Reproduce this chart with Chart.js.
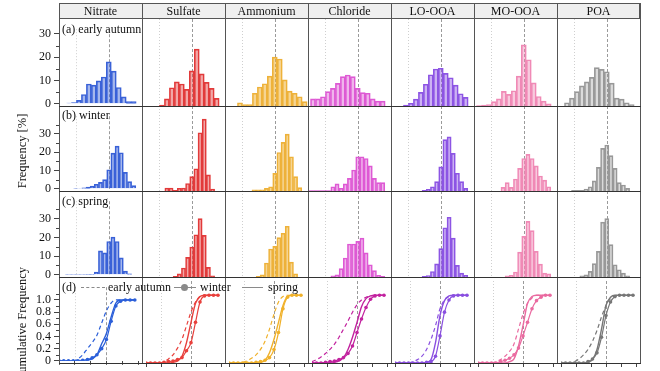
<!DOCTYPE html>
<html>
<head>
<meta charset="utf-8">
<script src="https://cdn.jsdelivr.net/npm/chart.js@4.4.0/dist/chart.umd.min.js"></script>
<style>
  body { margin: 0; background: #fff; }
  #wrap { position: relative; width: 660px; height: 371px; overflow: hidden;
          font-family: 'Liberation Serif', 'Times New Roman', serif; color: #111; }
  #wrap canvas { position: absolute; }
  .t { position: absolute; font-size: 12px; line-height: 14px; white-space: nowrap; z-index: 5; }
  .vl { position: absolute; width: 1px; background: #555; z-index: 4; }
  .hl { position: absolute; height: 1px; background: #333; z-index: 4; }
</style>
</head>
<body>
<div id="wrap"></div>
<script>
// Histogramas + frequência cumulativa por espécie e estação

const species = ['Nitrate', 'Sulfate', 'Ammonium', 'Chloride', 'LO-OOA', 'MO-OOA', 'POA'];
const seasons = ['early autumn', 'winter', 'spring'];

// centros das classes (eixo x 0..5)
const autumnBins = [0, 0.3, 0.6, 0.9, 1.2, 1.5, 1.8, 2.1, 2.4, 2.7, 3.0, 3.3, 3.6, 3.9, 4.2, 4.5, 4.8];
const winterBins = [0, 0.25, 0.5, 0.75, 1, 1.25, 1.5, 1.75, 2, 2.25, 2.5, 2.75, 3, 3.25, 3.5, 3.75, 4, 4.25, 4.5, 4.75];
const springBins = [0, 0.25, 0.5, 0.75, 1, 1.25, 1.5, 1.75, 2, 2.25, 2.5, 2.75, 3, 3.25, 3.5, 3.75, 4, 4.25, 4.5, 4.75];
const cumX = [0, 0.3, 0.6, 0.9, 1.2, 1.5, 1.8, 2.1, 2.4, 2.7, 3.0, 3.3, 3.6, 3.9, 4.2, 4.5, 4.8];

// frequência [%] - early autumn
const nitrateAutumn  = [0, 0, 0.3, 0.5, 1.5, 4, 8.5, 8, 9.8, 11.5, 18, 14, 7, 3, 1, 1, 0];
const sulfateAutumn  = [0, 0, 0, 0, 0.3, 2.6, 6.7, 8.9, 8.1, 6.1, 12.9, 20.9, 11.8, 8.7, 6.5, 2.8, 0];
const ammoniumAutumn = [0, 0, 0, 1.2, 0.5, 0.5, 4.7, 7, 8.2, 11, 18, 17.3, 9.6, 5.5, 4.7, 3.4, 1.6];
const chlorideAutumn = [0, 2.6, 2.6, 3.4, 5.3, 6.5, 8.3, 10.8, 11.4, 10.8, 6.5, 4.9, 4.7, 2.6, 1.8, 1.8, 0];
const looaAutumn     = [0, 0, 0, 0.3, 1, 2.5, 5, 8, 11.5, 13.6, 13.9, 12, 10.4, 7.7, 4.5, 3.2, 0];
const moooaAutumn    = [0, 0.2, 0.3, 0.5, 1.6, 2.6, 5.4, 4.3, 5.6, 11, 22.5, 17, 8.5, 3.5, 1.8, 0.8, 0];
const poaAutumn      = [0, 0, 1.2, 2.9, 5.3, 7.4, 8.9, 10.5, 14.1, 13.5, 12.6, 8.4, 2.9, 2.5, 1.2, 0.5, 0];

// winter
const nitrateWinter  = [0, 0, 0, 0, 0.2, 0.3, 0.5, 1, 1.5, 2.5, 3.5, 5, 10.4, 19.5, 23.3, 19.7, 9, 3.9, 1.7, 0];
const sulfateWinter  = [0, 0, 0, 0, 0, 0, 1.4, 1.4, 0.3, 1.3, 1.4, 3.5, 6.7, 10.4, 27.2, 33.6, 7.5, 0.9, 0, 0];
const ammoniumWinter = [0, 0, 0, 0, 0, 0, 0, 0.5, 0.5, 0.5, 1.2, 2, 8.2, 18, 22.7, 26.6, 16, 6.7, 1.6, 0];
const chlorideWinter = [0.2, 0.2, 0.2, 0.2, 0.2, 0.2, 2, 3.3, 1.3, 3.3, 5.9, 9.8, 16, 16, 15.2, 11.7, 5.9, 3.9, 3.9, 0];
const looaWinter     = [0, 0, 0, 0, 0, 0, 0, 0, 0.3, 0.8, 2, 4.4, 11.3, 24, 25.3, 17.6, 8.3, 4.4, 1.2, 0];
const moooaWinter    = [0, 0, 0, 0, 0, 0, 0, 1.7, 3.9, 1.7, 5.6, 10.6, 15.2, 17.1, 15.2, 11.7, 7, 5.1, 2, 0];
const poaWinter      = [0, 0, 0, 0, 0.3, 0.3, 0.3, 0.9, 2, 4.7, 11, 19.9, 21.5, 16.5, 10.6, 3.9, 2.8, 1.2, 0, 0];

// spring
const nitrateSpring  = [0, 0, 0.2, 0.2, 0.2, 0.2, 0.2, 0.3, 0.3, 1.4, 12.8, 11.7, 17.8, 20.1, 17.8, 9, 2, 0.5, 0, 0];
const sulfateSpring  = [0, 0, 0, 0, 0, 0, 0, 0, 0.3, 1.4, 4.1, 9, 13.7, 19.3, 26.7, 19, 4.4, 0.5, 0, 0];
const ammoniumSpring = [0, 0, 0, 0, 0, 0, 0, 0, 0.3, 1, 6.4, 12.8, 14, 18, 20, 23.2, 6.8, 1.5, 0, 0];
const chlorideSpring = [0, 0, 0, 0, 0, 0, 0.5, 1, 3.8, 8.7, 15.1, 15.1, 16.3, 17.8, 11, 5.6, 2.9, 0.8, 0.3, 0];
const looaSpring     = [0, 0, 0, 0, 0, 0, 0, 0, 0.3, 0.7, 2.5, 6, 13, 22.5, 27.3, 17.8, 5.3, 1.8, 0.8, 0];
const moooaSpring    = [0, 0, 0, 0, 0, 0, 0, 0, 0.5, 0.8, 2.3, 11.4, 18.6, 25.4, 21.2, 11.7, 5.9, 1.8, 1.4, 0];
const poaSpring      = [0, 0, 0, 0, 0, 0, 0.5, 1, 2.6, 6.1, 11.7, 25.1, 26.7, 14.8, 5.6, 3.3, 1.8, 0.5, 0, 0];

const nitrateCumAutumn  = [0, 0, 0, 0, 0.03, 0.1, 0.2, 0.3, 0.42, 0.62, 0.82, 0.95, 1, 1, 1, 1, 1];
const nitrateCumWinter  = [0, 0, 0, 0, 0, 0.01, 0.02, 0.05, 0.1, 0.2, 0.35, 0.65, 0.9, 0.98, 1, 1, 1];
const nitrateCumSpring  = [0, 0, 0, 0, 0, 0, 0.01, 0.03, 0.1, 0.28, 0.45, 0.72, 0.95, 1, 1, 1, 1];
const sulfateCumAutumn  = [0, 0, 0, 0, 0.02, 0.06, 0.12, 0.22, 0.35, 0.55, 0.75, 0.9, 0.98, 1, 1, 1, 1];
const sulfateCumWinter  = [0, 0, 0, 0, 0.01, 0.02, 0.03, 0.05, 0.08, 0.18, 0.3, 0.6, 0.9, 0.99, 1, 1, 1];
const sulfateCumSpring  = [0, 0, 0, 0, 0, 0, 0.01, 0.03, 0.1, 0.3, 0.6, 0.88, 0.98, 1, 1, 1, 1];
const ammoniumCumAutumn = [0, 0, 0, 0.01, 0.03, 0.07, 0.12, 0.2, 0.32, 0.5, 0.72, 0.9, 0.98, 1, 1, 1, 1];
const ammoniumCumWinter = [0, 0, 0, 0, 0, 0, 0.01, 0.02, 0.04, 0.08, 0.2, 0.45, 0.8, 0.97, 1, 1, 1];
const ammoniumCumSpring = [0, 0, 0, 0, 0, 0, 0, 0.01, 0.04, 0.15, 0.35, 0.6, 0.85, 0.98, 1, 1, 1];
const chlorideCumAutumn = [0.02, 0.05, 0.09, 0.14, 0.2, 0.28, 0.38, 0.5, 0.62, 0.75, 0.86, 0.93, 0.97, 0.99, 1, 1, 1];
const chlorideCumWinter = [0, 0, 0, 0.01, 0.02, 0.03, 0.05, 0.08, 0.14, 0.25, 0.45, 0.65, 0.82, 0.94, 0.99, 1, 1];
const chlorideCumSpring = [0, 0, 0, 0, 0, 0.01, 0.03, 0.08, 0.2, 0.38, 0.6, 0.83, 0.95, 0.99, 1, 1, 1];
const looaCumAutumn     = [0, 0, 0, 0, 0.02, 0.05, 0.1, 0.2, 0.35, 0.55, 0.8, 0.93, 0.98, 1, 1, 1, 1];
const looaCumWinter     = [0, 0, 0, 0, 0, 0, 0, 0.01, 0.02, 0.1, 0.4, 0.75, 0.93, 0.99, 1, 1, 1];
const looaCumSpring     = [0, 0, 0, 0, 0, 0, 0, 0.01, 0.05, 0.3, 0.7, 0.92, 0.99, 1, 1, 1, 1];
const moooaCumAutumn    = [0, 0, 0, 0, 0.02, 0.05, 0.1, 0.17, 0.28, 0.5, 0.72, 0.88, 0.96, 1, 1, 1, 1];
const moooaCumWinter    = [0, 0, 0, 0, 0, 0.02, 0.04, 0.07, 0.12, 0.22, 0.4, 0.6, 0.8, 0.92, 0.97, 1, 1];
const moooaCumSpring    = [0, 0, 0, 0, 0, 0, 0, 0.02, 0.06, 0.25, 0.55, 0.88, 0.98, 1, 1, 1, 1];
const poaCumAutumn      = [0, 0, 0, 0.02, 0.06, 0.12, 0.2, 0.32, 0.48, 0.68, 0.85, 0.95, 0.99, 1, 1, 1, 1];
const poaCumWinter      = [0, 0, 0, 0, 0, 0, 0.02, 0.06, 0.15, 0.38, 0.7, 0.9, 0.98, 1, 1, 1, 1];
const poaCumSpring      = [0, 0, 0, 0, 0, 0, 0.01, 0.05, 0.2, 0.5, 0.85, 0.97, 1, 1, 1, 1, 1];

// tabelas montadas a partir dos arrays
const hist = [
  [nitrateAutumn, nitrateWinter, nitrateSpring],
  [sulfateAutumn, sulfateWinter, sulfateSpring],
  [ammoniumAutumn, ammoniumWinter, ammoniumSpring],
  [chlorideAutumn, chlorideWinter, chlorideSpring],
  [looaAutumn, looaWinter, looaSpring],
  [moooaAutumn, moooaWinter, moooaSpring],
  [poaAutumn, poaWinter, poaSpring]
];
const cum = [
  [nitrateCumAutumn, nitrateCumWinter, nitrateCumSpring],
  [sulfateCumAutumn, sulfateCumWinter, sulfateCumSpring],
  [ammoniumCumAutumn, ammoniumCumWinter, ammoniumCumSpring],
  [chlorideCumAutumn, chlorideCumWinter, chlorideCumSpring],
  [looaCumAutumn, looaCumWinter, looaCumSpring],
  [moooaCumAutumn, moooaCumWinter, moooaCumSpring],
  [poaCumAutumn, poaCumWinter, poaCumSpring]
];
const binX = [autumnBins, winterBins, springBins];

// estilo
const fills  = ['rgba(58,98,216,0.45)', 'rgba(226,59,59,0.45)', 'rgba(238,178,58,0.55)', 'rgba(222,90,212,0.45)',
                'rgba(141,85,228,0.45)', 'rgba(240,138,182,0.45)', 'rgba(153,153,153,0.35)'];
const edges  = ['#3a62d8', '#e23b3b', '#eeb23a', '#de5ad4', '#8d55e4', '#f08ab6', '#999999'];
const lines  = ['#2b5fd9', '#e8403c', '#f0b12a', '#c2229f', '#8a4fe0', '#ea6aa0', '#777777'];

const colX   = [59, 142, 225, 308, 391, 474, 557, 640];
const rowTop = [19, 106, 191, 277];
const rowH   = [87, 85, 86, 86];
const yMax   = [32, 39.7, 39.3, 1.21];
const yStep  = [10, 10, 10, 0.2];
const yLimit = [30, 30, 30, 1.0];
const BELOW  = 8;

const wrap = document.getElementById('wrap');

// linhas de referência verticais (x = 1 pontilhada clara, x = 3 tracejada)
const refLines = {
  id: 'refLines',
  beforeDatasetsDraw(chart) {
    const { ctx, chartArea: a, scales: { x } } = chart;
    ctx.save();
    ctx.lineWidth = 1;
    [[1, '#cfcfcf', [1, 2]], [3, '#9a9a9a', [3, 2]]].forEach(([v, color, dash]) => {
      const px = Math.round(x.getPixelForValue(v)) + 0.5;
      ctx.strokeStyle = color;
      ctx.setLineDash(dash);
      ctx.beginPath();
      ctx.moveTo(px, a.top);
      ctx.lineTo(px, a.bottom);
      ctx.stroke();
    });
    ctx.restore();
  }
};

// ticks menores no eixo y (só primeira coluna)
const minorTicks = {
  id: 'minorTicks',
  afterDraw(chart, args, opts) {
    if (!opts.on) return;
    const { ctx, chartArea: a, scales: { y } } = chart;
    const step = opts.step;
    ctx.save();
    ctx.strokeStyle = '#444';
    ctx.lineWidth = 1;
    for (let v = step / 2; v < opts.limit; v += step) {
      const py = Math.round(y.getPixelForValue(v)) + 0.5;
      ctx.beginPath();
      ctx.moveTo(a.left - 3, py);
      ctx.lineTo(a.left, py);
      ctx.stroke();
    }
    ctx.restore();
  }
};

function tickLabel(r, v) {
  if (r === 3) return v === 0 ? '0' : v.toFixed(1);
  return String(v);
}

function makePanel(r, c) {
  const first = c === 0;
  const left = first ? 0 : colX[c];
  const width = colX[c + 1] - left;

  const cv = document.createElement('canvas');
  cv.width = width;
  cv.height = rowH[r] + BELOW;
  cv.style.left = left + 'px';
  cv.style.top = rowTop[r] + 'px';
  wrap.appendChild(cv);

  let datasets;
  if (r < 3) {
    datasets = [{
      type: 'bar',
      data: binX[r].map((x, i) => ({ x, y: hist[c][r][i] })),
      backgroundColor: fills[c],
      borderColor: edges[c],
      borderWidth: 1,
      barPercentage: 1,
      categoryPercentage: 1
    }];
  } else {
    const pts = arr => cumX.map((x, i) => ({ x, y: arr[i] }));
    datasets = [
      { type: 'line', data: pts(cum[c][0]), borderColor: lines[c], borderWidth: 1.2,
        borderDash: [4, 3], pointRadius: 0, cubicInterpolationMode: 'monotone' },
      { type: 'line', data: pts(cum[c][1]), borderColor: lines[c], borderWidth: 1.2,
        pointRadius: 1.8, pointBackgroundColor: lines[c], pointBorderWidth: 0,
        cubicInterpolationMode: 'monotone' },
      { type: 'line', data: pts(cum[c][2]), borderColor: lines[c], borderWidth: 1.4,
        pointRadius: 0, cubicInterpolationMode: 'monotone' }
    ];
  }

  new Chart(cv, {
    type: r < 3 ? 'bar' : 'line',
    data: { datasets },
    options: {
      responsive: false,
      animation: false,
      events: [],
      layout: { padding: 0 },
      plugins: {
        legend: { display: false },
        tooltip: { enabled: false },
        minorTicks: { on: first, step: yStep[r], limit: yMax[r] }
      },
      scales: {
        x: {
          type: 'linear', min: 0, max: 5, offset: false,
          ticks: { display: false, stepSize: 1 },
          grid: { drawOnChartArea: false, drawTicks: r === 3, tickLength: 4, tickColor: '#444' },
          border: { display: false },
          afterFit: s => { s.height = BELOW; }
        },
        y: {
          display: first,
          min: 0, max: yMax[r],
          ticks: {
            stepSize: yStep[r], padding: 3, color: '#111', autoSkip: false, includeBounds: false,
            font: { family: 'Liberation Serif', size: 12 },
            callback: v => tickLabel(r, v)
          },
          grid: { drawOnChartArea: false, tickLength: 5, tickColor: '#444' },
          border: { display: false },
          afterBuildTicks: s => { s.ticks = s.ticks.filter(t => t.value <= yLimit[r] + 1e-9); },
          afterFit: s => { if (first) s.width = colX[0]; }
        }
      }
    },
    plugins: [refLines, minorTicks]
  });
}

for (let r = 0; r < 4; r++) {
  for (let c = 0; c < species.length; c++) makePanel(r, c);
}

// ===== moldura, cabeçalho e textos =====
function addDiv(cls, style, text) {
  const d = document.createElement('div');
  d.className = cls;
  Object.assign(d.style, style);
  if (text) d.textContent = text;
  wrap.appendChild(d);
  return d;
}

// cabeçalho
addDiv('', { position: 'absolute', left: '59px', top: '3px', width: '581px', height: '16px',
  background: '#efefef', boxSizing: 'border-box', border: '1px solid #555', zIndex: 3 });
species.forEach((name, c) => {
  addDiv('t', { left: colX[c] + 'px', top: '4px', width: (colX[c + 1] - colX[c]) + 'px',
    textAlign: 'center', fontSize: '12px' }, name);
});

// linhas verticais das colunas
colX.forEach(x => addDiv('vl', { left: x + 'px', top: '3px', height: '361px' }));
// linhas de zero de cada linha
rowTop.forEach((t, r) => addDiv('hl', { left: '59px', top: (t + rowH[r]) + 'px', width: '582px' }));

// rótulos das linhas
addDiv('t', { left: '62px', top: '22px' }, '(a) ' + seasons[0]);
addDiv('t', { left: '62px', top: '108px' }, '(b) ' + seasons[1]);
addDiv('t', { left: '62px', top: '194px' }, '(c) ' + seasons[2]);

// títulos dos eixos y
addDiv('t', { left: '22px', top: '151px', fontSize: '12.5px',
  transform: 'translate(-50%, -50%) rotate(-90deg)' }, 'Frequency [%]');
addDiv('t', { left: '22px', top: '324px', fontSize: '12.5px',
  transform: 'translate(-50%, -50%) rotate(-90deg)' }, 'Cumulative Frequency');

// legenda do painel (d)
addDiv('t', { left: '62px', top: '280px' }, '(d)');
addDiv('', { position: 'absolute', left: '81px', top: '287px', width: '24px',
  borderTop: '1.5px dashed #8a8a8a', zIndex: 5 });
addDiv('t', { left: '108px', top: '280px' }, seasons[0]);
addDiv('', { position: 'absolute', left: '174px', top: '287px', width: '22px',
  borderTop: '1.5px solid #8a8a8a', zIndex: 5 });
addDiv('', { position: 'absolute', left: '181px', top: '284px', width: '7px', height: '7px',
  borderRadius: '50%', background: '#8a8a8a', zIndex: 5 });
addDiv('t', { left: '200px', top: '280px' }, seasons[1]);
addDiv('', { position: 'absolute', left: '242px', top: '287px', width: '21px',
  borderTop: '1.5px solid #8a8a8a', zIndex: 5 });
addDiv('t', { left: '268px', top: '280px' }, seasons[2]);
</script>
</body>
</html>
